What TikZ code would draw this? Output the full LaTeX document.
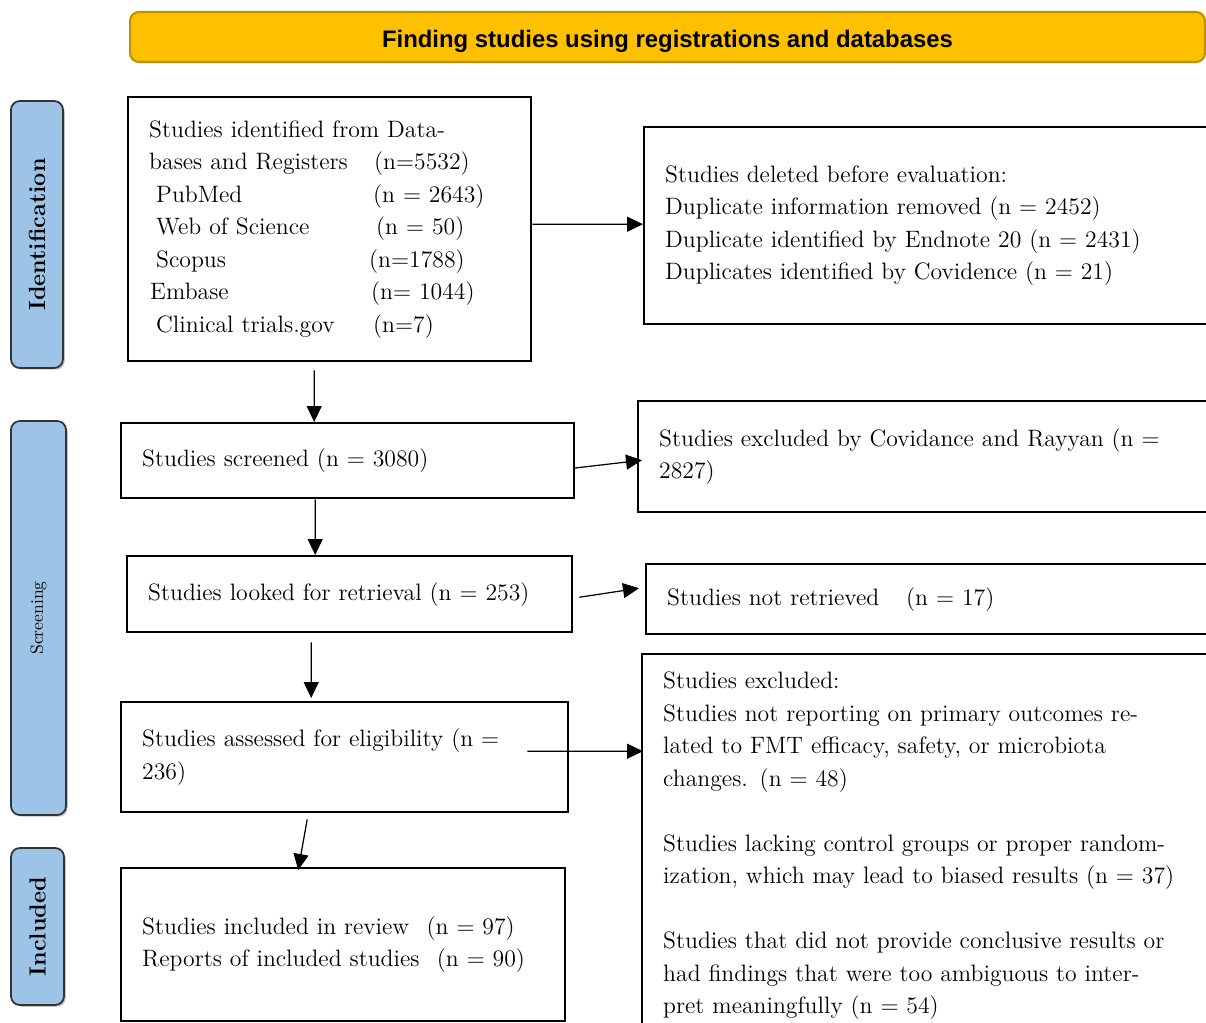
\documentclass[tikz,border=0pt]{standalone}
\usepackage{xcolor}
\usepackage{fontspec}
\usepackage{tikz}
\usetikzlibrary{arrows.meta, shadows}
\newfontfamily\bannerfont{Liberation Sans}
\definecolor{bannerfill}{HTML}{FFC000}
\definecolor{bannerline}{HTML}{BF9000}
\definecolor{phasefill}{HTML}{9DC3E6}
\newcommand{\srcline}[4]{\makebox[#3][l]{\hspace*{#1}#2}#4}

\begin{document}
\begin{tikzpicture}[
  x=0.02cm, y=-0.02cm,
  box/.style={draw, line width=1.4pt, anchor=north west, inner xsep=0.42cm, align=left, font=\fontsize{13.5}{18.5}\selectfont},
  banner/.style={draw=bannerline, line width=1.2pt, fill=bannerfill, rounded corners=5pt, text height=11.8pt, text depth=0pt, font=\bannerfont\bfseries\fontsize{13.6}{15}\selectfont},
  phase/.style={draw=black!80, line width=1pt, fill=phasefill, rounded corners=5pt, rotate=90, drop shadow={shadow xshift=1pt, shadow yshift=-1pt, fill=black!45}},
  arrow/.style={-{Triangle[length=0.32cm, width=0.3cm]}, line width=0.7pt},
]
\clip (0,0) rectangle (1206,1023);

% Header
\node[banner, minimum width=21.5cm, minimum height=1cm] (banner) at (667.5,37) {Finding studies using registrations and databases};

% Phases
\node[phase, minimum width=5.34cm, minimum height=1.04cm, font=\bfseries\fontsize{13.3}{15}\selectfont] (identification) at (37,234.5) {Identification};
\node[phase, minimum width=7.88cm, minimum height=1.1cm, font=\fontsize{10}{11}\selectfont] (screening) at (38.5,618) {Screening};
\node[phase, minimum width=3.14cm, minimum height=1.06cm, font=\bfseries\fontsize{13.3}{15}\selectfont] (included) at (37.5,926.5) {Included};

% Main flow
\node[box, text width=7.22cm, minimum height=5.28cm] (ident) at (127,96) {Studies identified from Data-\\
  \srcline{0cm}{bases and Registers}{4.5cm}{(n=5532)}\\
  \srcline{0.14cm}{PubMed}{4.48cm}{(n = 2643)}\\
  \srcline{0.14cm}{Web of Science}{4.54cm}{(n = 50)}\\
  \srcline{0.14cm}{Scopus}{4.4cm}{(n=1788)}\\
  \srcline{0.02cm}{Embase}{4.44cm}{(n= 1044)}\\
  \srcline{0.14cm}{Clinical trials.gov}{4.48cm}{(n=7)}};
\node[box, text width=8.22cm, minimum height=1.5cm] (screened) at (120,422) {Studies screened (n = 3080)};
\node[box, text width=8.06cm, minimum height=1.52cm] (retrieval) at (126,555) {Studies looked for retrieval (n = 253)};
\node[box, text width=8.10cm, minimum height=2.2cm] (eligible) at (120,701) {Studies assessed for eligibility (n =\\236)};
\node[box, text width=8.04cm, minimum height=3.06cm] (review) at (120,867) {Studies included in review\hspace{0.4em} (n = 97)\\Reports of included studies\hspace{0.4em} (n = 90)};

% Exclusions
\node[box, text width=11.5cm, minimum height=3.94cm] (deleted) at (643,126) {Studies deleted before evaluation:\\
  Duplicate information removed (n = 2452)\\
  Duplicate identified by Endnote 20 (n = 2431)\\
  Duplicates identified by Covidence (n = 21)};
\node[box, text width=11.62cm, minimum height=2.22cm] (excluded) at (637,400) {Studies excluded by Covidance and Rayyan (n =\\2827)};
\node[box, text width=11.46cm, minimum height=1.4cm] (notretr) at (645,563) {Studies not retrieved\hspace{0.8em} (n = 17)};
\node[box, text width=11.54cm, minimum height=7.66cm] (reasons) at (641,653) {Studies excluded:\\
  Studies not reporting on primary outcomes re-\\
  lated to FMT efficacy, safety, or microbiota\\
  changes. (n = 48)\\[18.5pt]
  Studies lacking control groups or proper random-\\
  ization, which may lead to biased results (n = 37)\\[18.5pt]
  Studies that did not provide conclusive results or\\
  had findings that were too ambiguous to inter-\\
  pret meaningfully (n = 54)};

% Arrows
\draw[arrow] ([yshift=0.1cm]ident.east) -- ([yshift=0.03cm]deleted.west);
\draw[arrow] ([xshift=-0.31cm, yshift=-0.16cm]ident.south) -- ([xshift=-0.67cm]screened.north);
\draw[arrow] ([xshift=-0.04cm, yshift=-0.15cm]screened.east) -- ([xshift=0.1cm, yshift=-0.07cm]excluded.west);
\draw[arrow] ([xshift=-0.65cm]screened.south) -- ([xshift=-0.69cm]retrieval.north);
\draw[arrow] ([xshift=0.12cm, yshift=-0.06cm]retrieval.east) -- ([xshift=-0.12cm, yshift=0.22cm]notretr.west);
\draw[arrow] ([xshift=-0.77cm, yshift=-0.18cm]retrieval.south) -- ([xshift=-0.67cm, yshift=0.06cm]eligible.north);
\draw[arrow] ([xshift=-0.84cm, yshift=0.12cm]eligible.east) -- ([xshift=0.04cm, yshift=1.89cm]reasons.west);
\draw[arrow] ([xshift=-0.75cm, yshift=-0.12cm]eligible.south) -- ([xshift=-0.9cm, yshift=-0.06cm]review.north);

\end{tikzpicture}
\end{document}
